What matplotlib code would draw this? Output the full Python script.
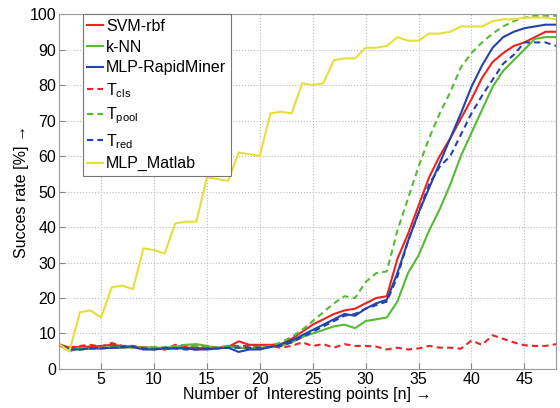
import matplotlib
matplotlib.use("Agg")
import matplotlib.pyplot as plt
import numpy as np

plt.rcParams['font.family'] = ['Liberation Sans', 'DejaVu Sans']
plt.rcParams['mathtext.fontset'] = 'custom'
plt.rcParams['mathtext.rm'] = 'Liberation Sans'
plt.rcParams['mathtext.it'] = 'Liberation Sans'
plt.rcParams['mathtext.default'] = 'regular'

n = list(range(1, 49))

svm_rbf = [7, 6, 6.2, 6.3, 6.5, 6.8, 6.5, 6.3, 6, 6, 5.5, 6, 6, 6, 5.8, 6, 6.2, 7.8, 6.8, 6.8, 6.8,
           7, 8.5, 10.5, 12.5, 14, 15.5, 16.5, 17, 18.5, 20, 20.5, 31, 38, 46, 54, 60, 65, 70.5,
           76, 82, 86.5, 89, 91, 92, 93.5, 95, 95]
knn = [7, 5, 6, 5.8, 6, 6, 6.2, 6.2, 6, 6, 6, 6.2, 6.8, 7, 6.5, 5.8, 6.3, 6, 5.8, 6, 6.2,
       6.5, 7.5, 9, 10, 11, 12, 12.5, 11.5, 13.5, 14, 14.5, 19, 27, 32, 39, 45, 52, 60,
       66.5, 73, 79.5, 84, 87, 90, 93, 93.5, 93.5]
mlp_rm = [6.8, 5.5, 5.5, 5.8, 5.8, 6, 6, 6.2, 5.5, 5.5, 5.8, 5.8, 5.8, 5.5, 5.5, 5.8, 6, 4.8, 5.5, 5.5, 6.2,
          7, 8, 9.5, 11, 12.5, 14, 15.5, 15, 17, 18.5, 19.5, 27, 36, 44, 51, 58, 65, 72,
          79.5, 85.5, 90.5, 93.5, 95, 96, 96.5, 97, 97]
t_cls = [6.5, 6, 6.5, 6.8, 6.3, 7.3, 6.5, 6.5, 6, 6.2, 5.5, 6.8, 6.5, 6.2, 6.5, 6, 6.5, 6.5, 6.5, 6.2, 6.5,
         6, 6.5, 7.5, 6.5, 7, 6, 7, 6.5, 6.5, 6.3, 5.5, 6, 5.5, 5.8, 6.5, 6, 6, 5.7,
         8, 6.8, 9.5, 8.5, 7.5, 6.7, 6.5, 6.5, 7]
t_pool = [7, 5.2, 5.5, 5.8, 6, 6.2, 6, 6, 6, 6.2, 6, 6.5, 6.8, 6.5, 6.5, 6, 6.5, 6, 6, 6.2, 6.5,
          7.5, 9, 11, 13.5, 16, 18.5, 20.5, 20, 24.5, 27, 27.5, 39, 48, 57, 65, 72, 78, 85,
          89, 92, 94.5, 96.5, 98, 99, 99.5, 99.5, 99.5]
t_red = [6.8, 5.5, 5.5, 5.8, 5.8, 6, 6.2, 6.2, 5.8, 5.5, 6, 5.8, 5.5, 5.5, 5.8, 5.8, 6, 6, 6, 6, 6.2,
         6.5, 7.5, 9, 10.5, 12, 13.5, 15, 15.5, 17, 18, 19, 26, 36, 44, 52, 57, 60, 66,
         72, 77, 81.5, 86, 88.5, 92, 92, 92, 91]
mlp_matlab = [7, 5, 16, 16.5, 14.5, 23, 23.5, 22.5, 34, 33.5, 32.5, 41, 41.5, 41.5, 54, 53.5, 53, 61, 60.5, 60,
              72, 72.5, 72, 80.5, 80, 80.5, 87, 87.5, 87.5, 90.5, 90.5, 91, 93.5, 92.5, 92.5, 94.5, 94.5, 95,
              96.5, 96.5, 96.5, 98, 98.5, 98.5, 99, 99, 99, 98.5]

xticks = [5, 10, 15, 20, 25, 30, 35, 40, 45]
yticks = [0, 10, 20, 30, 40, 50, 60, 70, 80, 90, 100]

red = '#ee2222'
green = '#55bb33'
blue = '#2244aa'
yellow = '#e6df3a'

fig = plt.figure(figsize=(5.6, 4.08), dpi=100)
ax = fig.add_axes([0.105, 0.0956, 0.888, 0.870])

lw = 1.5
ax.plot(n, svm_rbf, color=red, lw=lw, label='SVM-rbf')
ax.plot(n, knn, color=green, lw=lw, label='k-NN')
ax.plot(n, mlp_rm, color=blue, lw=lw, label='MLP-RapidMiner')
ax.plot(n, t_cls, color=red, lw=lw, ls=(0, (3, 2)), label=r'T$_{\rm cls}$')
ax.plot(n, t_pool, color=green, lw=lw, ls=(0, (3, 2)), label=r'T$_{\rm pool}$')
ax.plot(n, t_red, color=blue, lw=lw, ls=(0, (3, 2)), label=r'T$_{\rm red}$')
ax.plot(n, mlp_matlab, color=yellow, lw=lw, label='MLP_Matlab')

ax.set_xlim(1, 48)
ax.set_ylim(0, 100)
ax.set_xticks(xticks)
ax.set_yticks(yticks)
ax.tick_params(direction='in', labelsize=11.5, length=4, color='#888888', pad=2)
ax.grid(True, ls=':', color='#bbbbbb', lw=0.8)
for s in ax.spines.values():
    s.set_color('#999999')
    s.set_linewidth(0.8)

ax.set_xlabel('Number of  Interesting points [n] \u2192', fontsize=11.5, labelpad=0)
ax.set_ylabel('Succes rate [%] \u2192', fontsize=11.5, labelpad=0)

leg = ax.legend(loc='upper left', bbox_to_anchor=(0.048, 1.0), borderaxespad=0,
                fontsize=11.5, handlelength=1.0, handletextpad=0.15, labelspacing=0.36,
                borderpad=0.3, fancybox=False, framealpha=1, edgecolor='#777777')
leg.get_frame().set_linewidth(0.8)

fig.savefig('out.png', dpi=100)
